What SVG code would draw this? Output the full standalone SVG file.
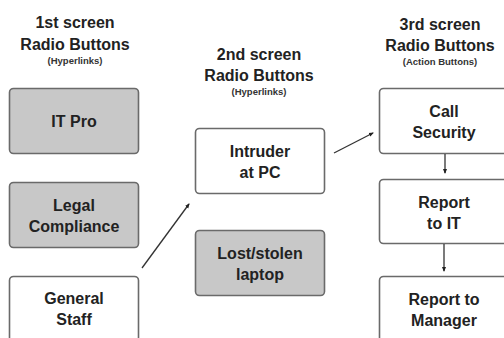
<svg xmlns="http://www.w3.org/2000/svg" width="504" height="338" viewBox="0 0 504 338">
<defs>
<style>
.box{stroke:#6a6a6a;stroke-width:1.6;}
.g{fill:#c8c8c8;}
.w{fill:#ffffff;}
.t{font-family:"Liberation Sans",Arial,sans-serif;font-weight:bold;font-size:16px;fill:#222;text-anchor:middle;}
.s{font-family:"Liberation Sans",Arial,sans-serif;font-weight:bold;font-size:9.5px;fill:#333;text-anchor:middle;}
.c{stroke:#333;stroke-width:1.3;fill:none;marker-end:url(#ah);}
</style>
<marker id="ah" viewBox="0 0 10 10" refX="8" refY="5" markerWidth="5" markerHeight="5" orient="auto" markerUnits="userSpaceOnUse">
<path d="M0,1 L10,5 L0,9 z" fill="#222"/>
</marker>
</defs>
<rect width="504" height="338" fill="#fff"/>
<g id="headers">
<text class="t" x="75" y="28">1st screen</text>
<text class="t" x="75" y="50">Radio Buttons</text>
<text class="s" x="75" y="64">(Hyperlinks)</text>
<text class="t" x="259" y="60">2nd screen</text>
<text class="t" x="259" y="81">Radio Buttons</text>
<text class="s" x="259" y="95">(Hyperlinks)</text>
<text class="t" x="440" y="30">3rd screen</text>
<text class="t" x="440" y="51">Radio Buttons</text>
<text class="s" x="440" y="65">(Action Buttons)</text>
</g>
<g id="it-pro"><rect class="box g" x="9.5" y="88.5" width="129" height="65" rx="4"/><text class="t" x="74" y="127">IT Pro</text></g>
<g id="legal"><rect class="box g" x="9.5" y="182.5" width="129" height="65" rx="4"/><text class="t" x="74" y="211">Legal</text><text class="t" x="74" y="232">Compliance</text></g>
<g id="general"><rect class="box w" x="9.5" y="276.5" width="129" height="65" rx="4"/><text class="t" x="74" y="304">General</text><text class="t" x="74" y="325">Staff</text></g>
<g id="intruder"><rect class="box w" x="195.5" y="128.5" width="129" height="65" rx="4"/><text class="t" x="260" y="157">Intruder</text><text class="t" x="260" y="178">at PC</text></g>
<g id="lost"><rect class="box g" x="195.5" y="230.5" width="129" height="65" rx="4"/><text class="t" x="260" y="259">Lost/stolen</text><text class="t" x="260" y="280">laptop</text></g>
<g id="call"><rect class="box w" x="379.5" y="88.5" width="129" height="65" rx="4"/><text class="t" x="444" y="117">Call</text><text class="t" x="444" y="138">Security</text></g>
<g id="report-it"><rect class="box w" x="379.5" y="179.5" width="129" height="64" rx="4"/><text class="t" x="444" y="208">Report</text><text class="t" x="444" y="229">to IT</text></g>
<g id="report-mgr"><rect class="box w" x="379.5" y="276.5" width="129" height="65" rx="4"/><text class="t" x="444" y="305">Report to</text><text class="t" x="444" y="326">Manager</text></g>
<g id="connectors">
<line class="c" x1="142" y1="268" x2="189" y2="204"/>
<line class="c" x1="334" y1="153" x2="373" y2="133"/>
<line class="c" x1="445" y1="154" x2="445" y2="173"/>
<line class="c" x1="444" y1="244" x2="444" y2="271"/>
</g>
</svg>
